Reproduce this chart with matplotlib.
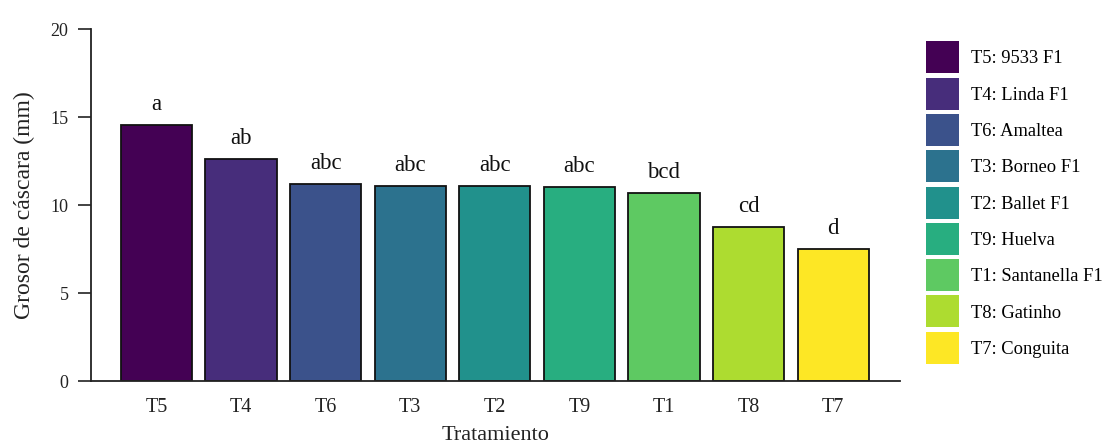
import numpy as np
import matplotlib
matplotlib.use("Agg")
import matplotlib.pyplot as plt
from matplotlib.patches import Rectangle
from matplotlib.legend_handler import HandlerPatch

# datos: grosor de cáscara por tratamiento
tratamientos = ["T5", "T4", "T6", "T3", "T2", "T9", "T1", "T8", "T7"]
grosor = [14.55, 12.6, 11.2, 11.1, 11.08, 11.0, 10.66, 8.73, 7.48]
letras = ["a", "ab", "abc", "abc", "abc", "abc", "bcd", "cd", "d"]
nombres = ["T5: 9533 F1", "T4: Linda F1", "T6: Amaltea", "T3: Borneo F1",
           "T2: Ballet F1", "T9: Huelva", "T1: Santanella F1", "T8: Gatinho",
           "T7: Conguita"]

plt.rcParams['font.family'] = ['Liberation Serif', 'DejaVu Serif']

colores = plt.cm.viridis(np.linspace(0, 1, len(tratamientos)))

fig = plt.figure(figsize=(11.05, 4.46), dpi=100)
ax = fig.add_axes([91.3 / 1105, 1 - 381 / 446, (900 - 91.3) / 1105, (381 - 29) / 446])

x = np.arange(len(tratamientos))
barras = ax.bar(x, grosor, width=0.84, color=colores, edgecolor="#111111", linewidth=1.3)

# letras de significancia encima de cada barra
for xi, v, l in zip(x, grosor, letras):
    ax.text(xi, v + 0.85, l, ha="center", va="baseline", fontsize=16.5, color="#111111")

ax.set_xlim(-0.77, 8.79)
ax.set_ylim(0, 20)
ax.set_yticks([0, 5, 10, 15, 20])
ax.set_xticks(x)
ax.set_xticklabels(tratamientos)
ax.tick_params(axis="x", length=0, pad=12, labelsize=14.5, colors="#222222")
ax.tick_params(axis="y", length=9.4, width=1.2, pad=7, labelsize=13, colors="#222222")
ax.spines["top"].set_visible(False)
ax.spines["right"].set_visible(False)
for s in ["left", "bottom"]:
    ax.spines[s].set_linewidth(1.3)
    ax.spines[s].set_color("#222222")

ax.set_xlabel("Tratamiento", fontsize=16, labelpad=7, color="#222222")
ax.set_ylabel("Grosor de cáscara (mm)", fontsize=17, labelpad=11, color="#222222")


def cuadro(legend, orig_handle, xdescent, ydescent, width, height, fontsize):
    # cuadro de color más alto que la caja de la leyenda, centrado
    h = 23.0
    cy = -ydescent + height / 2
    return Rectangle((-xdescent, cy - h / 2), width, h)


handles = [Rectangle((0, 0), 1, 1, facecolor=c, edgecolor="none") for c in colores]
fig.legend(handles, nombres, loc="upper left",
           bbox_to_anchor=(926 / 1105, 1 - 45.5 / 446),
           frameon=False, fontsize=13.3, borderpad=0, borderaxespad=0,
           handlelength=1.8, handleheight=1.6, labelspacing=0.68,
           handletextpad=0.65,
           handler_map={Rectangle: HandlerPatch(patch_func=cuadro)})

fig.savefig("out.png", dpi=100)
